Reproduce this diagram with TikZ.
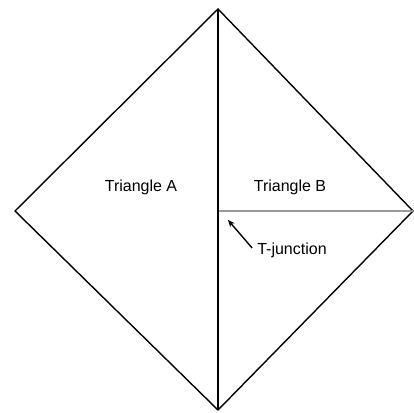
\documentclass[tikz,border=0pt]{standalone}
\usepackage{fontspec}
\setmainfont{Liberation Sans}
\usetikzlibrary{arrows.meta, positioning}
\tikzset{
    % Shapes
    outline/.style = {draw=black, line width=1.4pt, line join=miter},
    divider/.style = {draw=black, line width=2pt},
    seam/.style    = {draw=gray!80, line width=2pt},
    % Labels and pointers
    label_text/.style = {font=\fontsize{16}{18}\selectfont, inner sep=0pt},
    pointer/.style = {line width=1.4pt, -{Stealth[length=7pt, width=6pt]}}
}

\begin{document}
\begin{tikzpicture}[x=1pt, y=1pt]
    \useasboundingbox (0,0) rectangle (414,412);

    % Vertices
    \coordinate (top) at (218,403);
    \coordinate (left) at (15,201);
    \coordinate (right) at (413,201);
    \coordinate (bottom) at (218,2);
    \coordinate (junction) at (218,201);

    % Edges
    \draw [outline] (top) -- (left) -- (bottom) -- (right) -- cycle;
    \draw [seam] (junction) -- (right);
    \draw [divider] (top) -- (bottom);

    % Nodes
    \node (triA) [label_text] at (141,225) {Triangle A};
    \node (triB) [label_text] at (290,225) {Triangle B};
    \node (tjunc) [label_text] at (292,162) {T-junction};

    \coordinate (tip) at (228,192);
    \draw [pointer] (tjunc.west) ++(-5,2) -- (tip);
\end{tikzpicture}
\end{document}
